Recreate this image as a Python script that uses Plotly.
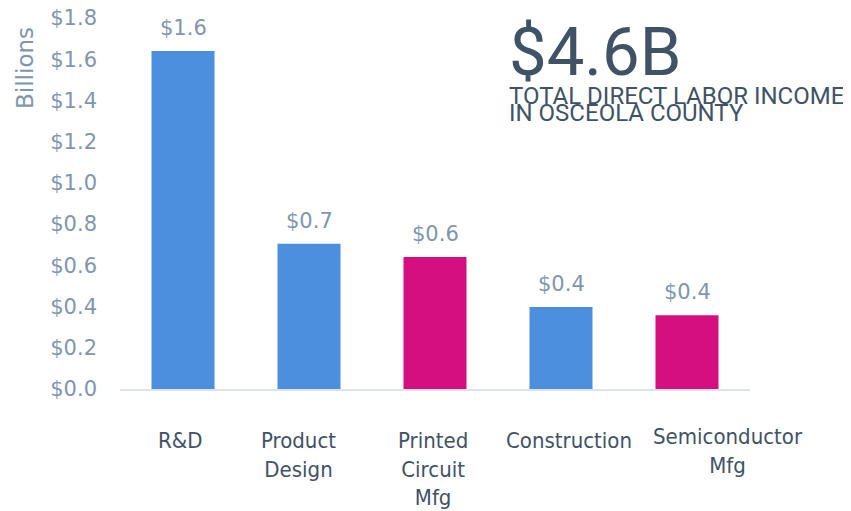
import plotly.graph_objects as go

# Direct labor income by industry, Osceola County (billions of dollars)
categories = ['R&D', 'Product Design', 'Printed Circuit Mfg', 'Construction', 'Semiconductor Mfg']
tick_labels = ['R&D', 'Product<br>Design', 'Printed<br>Circuit<br>Mfg', 'Construction', 'Semiconductor<br>Mfg']
income = [1.64, 0.705, 0.64, 0.398, 0.358]
highlight = [False, False, True, False, True]

y_ticks = [0.0, 0.2, 0.4, 0.6, 0.8, 1.0, 1.2, 1.4, 1.6, 1.8]
y_tick_labels = ['$%.1f' % v for v in y_ticks]

BLUE = '#4d8fdf'
MAGENTA = '#d60f80'
TICK_GREY = '#7f96ae'
DARK = '#3f5266'

# the category labels in the original are nudged by hand
label_dx = [-3, -11, -2, 8, 41]
label_dy = [-37, -37, -37, -37, -33]

bar_colors = [MAGENTA if h else BLUE for h in highlight]

fig = go.Figure()
fig.add_trace(go.Bar(
    x=categories,
    y=income,
    marker_color=bar_colors,
    marker_line_width=0,
    width=0.5,
    hovertemplate='<b>%{x}</b><br>$%{y:.2f}B<extra></extra>'
))

# value labels above bars
for cat, val in zip(categories, income):
    fig.add_annotation(
        x=cat, y=val, text='$%.1f' % val,
        showarrow=False, yanchor='bottom', yshift=9,
        font=dict(family='DejaVu Sans', size=21, color=TICK_GREY)
    )

# category labels under the axis
for cat, lab, dx, dy in zip(categories, tick_labels, label_dx, label_dy):
    fig.add_annotation(
        x=cat, yref='paper', y=0, text=lab,
        showarrow=False, xanchor='center', yanchor='top',
        xshift=dx, yshift=dy,
        font=dict(family='DejaVu Sans Condensed, DejaVu Sans', size=22, color=DARK)
    )

# big headline number
fig.add_annotation(
    xref='paper', yref='paper', x=0.614, y=1.02,
    xanchor='left', yanchor='top',
    text='$4.6B', showarrow=False,
    font=dict(family='Roboto, sans-serif', size=67, color=DARK)
)
fig.add_annotation(
    xref='paper', yref='paper', x=0.614, y=0.791,
    xanchor='left', yanchor='middle',
    text='TOTAL DIRECT LABOR INCOME', showarrow=False,
    font=dict(family='Roboto, sans-serif', size=24, color=DARK)
)
fig.add_annotation(
    xref='paper', yref='paper', x=0.614, y=0.743,
    xanchor='left', yanchor='middle',
    text='IN OSCEOLA COUNTY', showarrow=False,
    font=dict(family='Roboto, sans-serif', size=24, color=DARK)
)

# axis title sits near the top, like the original
fig.add_annotation(
    xref='paper', yref='paper', x=-0.152, y=0.866,
    xanchor='center', yanchor='middle', textangle=-90,
    text='Billions', showarrow=False,
    font=dict(family='DejaVu Sans', size=23, color=TICK_GREY)
)

# page body adds an 8px offset, so the figure is drawn 8px smaller
fig.update_layout(
    width=843, height=503,
    margin=dict(l=112, r=101, t=10, b=122),
    paper_bgcolor='white',
    plot_bgcolor='white',
    showlegend=False,
    bargap=0.5,
    xaxis=dict(
        tickmode='array', tickvals=categories, showticklabels=False,
        range=[-0.5, len(categories) - 0.5],
        showline=True, linecolor='#dde3ea', linewidth=2,
        showgrid=False, ticks='', automargin=False,
    ),
    yaxis=dict(
        range=[0, 1.8], tickvals=y_ticks, ticktext=y_tick_labels,
        showgrid=False, zeroline=False, showline=False, ticks='',
        ticklabelstandoff=22, automargin=False, ticklabeloverflow='allow',
        tickfont=dict(family='DejaVu Sans', size=21, color=TICK_GREY),
    ),
)

fig.write_html('out.html')
